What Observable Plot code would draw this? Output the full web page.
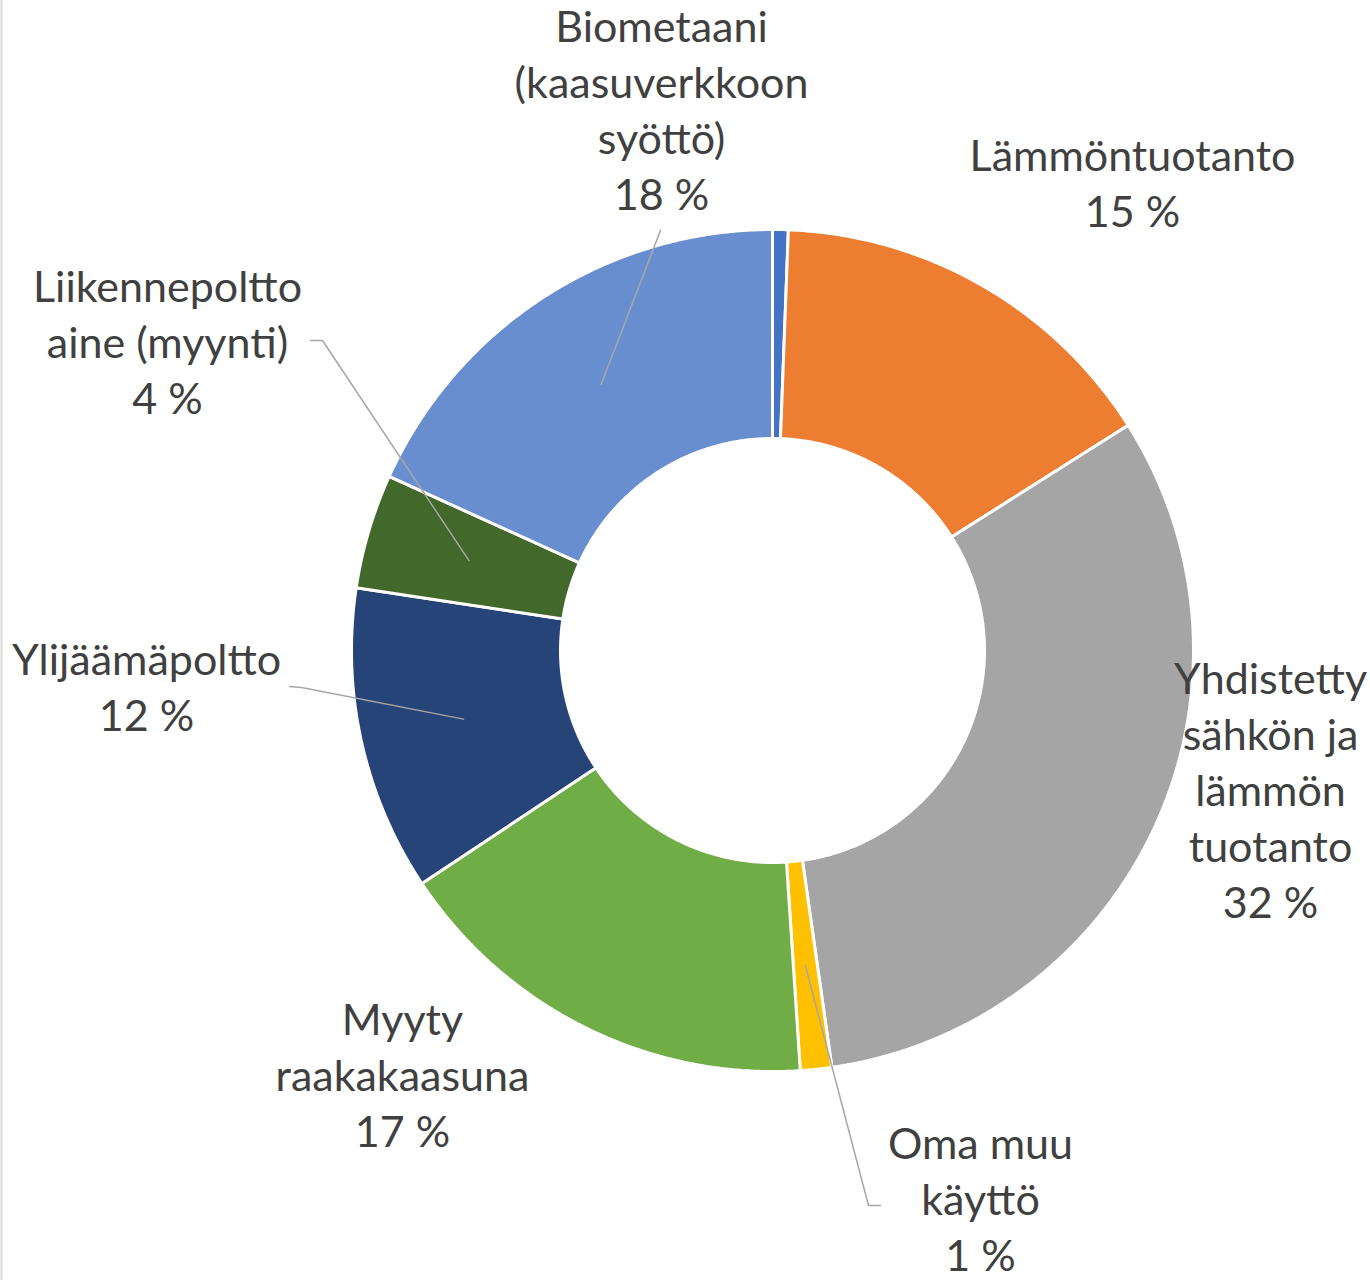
<!DOCTYPE html>
<html>
<head>
<meta charset="utf-8">
<script src="https://cdn.jsdelivr.net/npm/d3@7"></script>
<script src="https://cdn.jsdelivr.net/npm/@observablehq/plot@0.6"></script>
<style>
  html, body { margin: 0; padding: 0; background: #ffffff; }
  #chart svg { display: block; }
</style>
</head>
<body>
<div id="chart"></div>
<script>
// ---- Data (clockwise from 12 o'clock) ----
const categories = [
  "Muu",
  "Lämmöntuotanto",
  "Yhdistetty sähkön ja lämmön tuotanto",
  "Oma muu käyttö",
  "Myyty raakakaasuna",
  "Ylijäämäpoltto",
  "Liikennepolttoaine (myynti)",
  "Biometaani (kaasuverkkoon syöttö)"
];
const shares = [0.6, 15.4, 31.7, 1.2, 16.7, 11.7, 4.4, 18.2];
const labelTexts = [
  null,
  "Lämmöntuotanto",
  "Yhdistetty\nsähkön ja\nlämmön\ntuotanto",
  "Oma muu\nkäyttö",
  "Myyty\nraakakaasuna",
  "Ylijäämäpoltto",
  "Liikennepoltto\naine (myynti)",
  "Biometaani\n(kaasuverkkoon\nsyöttö)"
];
const percentLabels = ["", "15 %", "32 %", "1 %", "17 %", "12 %", "4 %", "18 %"];

// ---- Styles / layout (not data) ----
const colors = ["#4472C4", "#ED7D31", "#A5A5A5", "#FFC000", "#70AD47", "#264478", "#43682B", "#698ED0"];
const W = 1370, H = 1280;
const cx = 772, cy = 650, R = 421, r0 = 212;
const fontSize = 43, lineH = 56;
// label block centres (pixel layout)
const labelPos = [
  null,
  {x: 1132, y: 181},
  {x: 1270, y: 788},
  {x: 980,  y: 1197},
  {x: 402,  y: 1073},
  {x: 146,  y: 685},
  {x: 167,  y: 340},
  {x: 661,  y: 108}
];
// leader line start (and optional elbow) in pixel layout
const leaderStart = [
  null, null, null,
  [[880, 1205], [868, 1205]],
  null,
  [[289, 686], [301, 687]],
  [[310, 340], [322, 340]],
  [[660, 230]]
];

// ---- Geometry from data ----
const total = d3.sum(shares);
let acc = 0;
const slices = shares.map((v, i) => {
  const a0 = acc / total * 2 * Math.PI;
  acc += v;
  const a1 = acc / total * 2 * Math.PI;
  return {i, name: categories[i], value: v, a0, a1, mid: (a0 + a1) / 2};
});
const px = (a, rad) => cx + rad * Math.sin(a);
const py = (a, rad) => cy - rad * Math.cos(a);

function slicePoints(s) {
  const pts = [];
  const n = Math.max(2, Math.ceil((s.a1 - s.a0) / (Math.PI / 360)));
  for (let k = 0; k <= n; k++) {
    const a = s.a0 + (s.a1 - s.a0) * k / n;
    pts.push({x: px(a, R), y: py(a, R), name: s.name});
  }
  for (let k = n; k >= 0; k--) {
    const a = s.a0 + (s.a1 - s.a0) * k / n;
    pts.push({x: px(a, r0), y: py(a, r0), name: s.name});
  }
  return pts;
}

const sliceMarks = slices.map(s =>
  Plot.line(slicePoints(s), {
    x: "x", y: "y",
    curve: "linear-closed",
    fill: colors[s.i],
    stroke: "#ffffff",
    strokeWidth: 3,
    strokeLinejoin: "miter"
  })
);

const leaderData = [];
slices.forEach(s => {
  const st = leaderStart[s.i];
  if (!st) return;
  const pts = st.map(p => ({x: p[0], y: p[1], k: s.i}));
  const rm = (R + r0) / 2;
  pts.push({x: px(s.mid, rm), y: py(s.mid, rm), k: s.i});
  leaderData.push(...pts);
});

const labelData = slices
  .filter(s => labelTexts[s.i])
  .map(s => ({
    x: labelPos[s.i].x,
    y: labelPos[s.i].y,
    text: labelTexts[s.i] + "\n" + percentLabels[s.i]
  }));

const chart = Plot.plot({
  width: W,
  height: H,
  margin: 0,
  x: {domain: [0, W], range: [0, W], axis: null},
  y: {domain: [0, H], range: [0, H], axis: null},
  style: {background: "#ffffff"},
  marks: [
    Plot.ruleX([1], {stroke: "#d9d9d9", strokeWidth: 2}),
    ...sliceMarks,
    Plot.line(leaderData, {x: "x", y: "y", z: "k", stroke: "#a6a6a6", strokeWidth: 1.5}),
    Plot.text(labelData, {
      x: "x", y: "y", text: "text",
      textAnchor: "middle",
      lineAnchor: "middle",
      lineHeight: lineH / fontSize,
      fontSize: fontSize,
      fontFamily: "Lato, 'Open Sans', sans-serif",
      fill: "#404040"
    })
  ]
});
document.getElementById("chart").appendChild(chart);
</script>
</body>
</html>
